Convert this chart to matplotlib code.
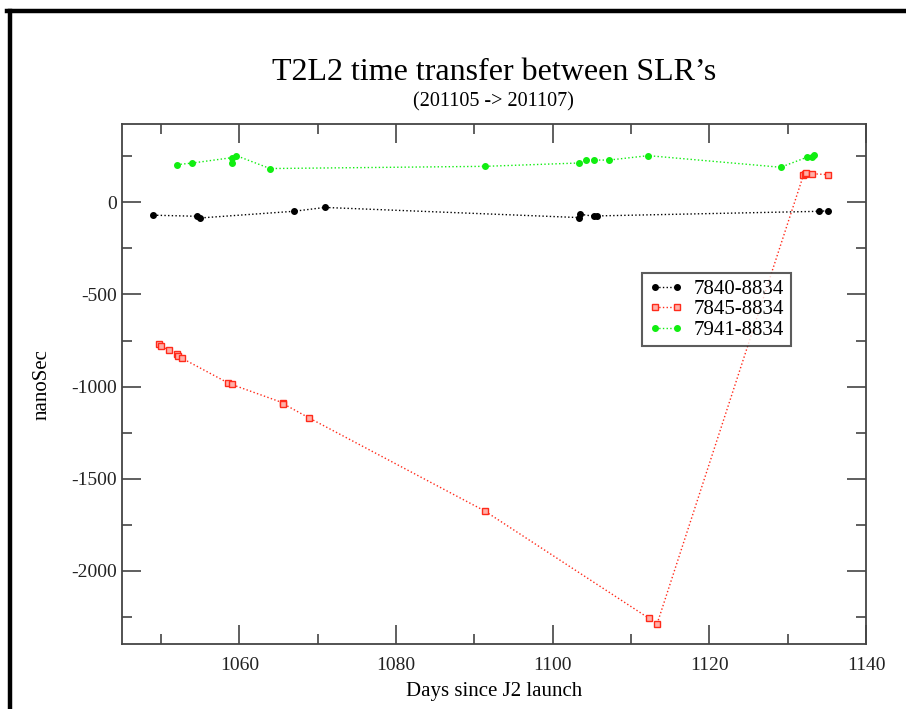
import matplotlib.pyplot as plt
from matplotlib.lines import Line2D

# days since J2 launch / time offset in ns
days_7840 = [1049.0, 1054.6, 1055.0, 1066.9, 1070.9, 1103.4, 1103.5, 1105.3, 1105.6, 1134.0, 1135.1]
ns_7840 = [-70, -76, -85, -49, -28, -83, -65, -76, -74, -49, -46]

days_7845 = [1049.7, 1050.0, 1051.0, 1052.0, 1052.1, 1052.7, 1058.5, 1059.0, 1065.5, 1065.6,
             1068.9, 1091.3, 1112.3, 1113.3, 1132.0, 1132.2, 1132.3, 1133.1, 1135.1]
ns_7845 = [-771, -778, -803, -823, -833, -847, -979, -988, -1087, -1093,
           -1170, -1674, -2257, -2290, 146, 152, 159, 155, 150]

days_7941 = [1052.0, 1054.0, 1059.0, 1059.0, 1059.6, 1063.9, 1091.4, 1103.3, 1104.2, 1105.3,
             1107.2, 1112.2, 1129.1, 1132.5, 1133.1, 1133.4]
ns_7941 = [204, 213, 242, 215, 253, 183, 195, 213, 229, 229,
           229, 253, 190, 245, 245, 255]

labels = ['7840-8834', '7845-8834', '7941-8834']

plt.rcParams['font.family'] = ['Liberation Serif', 'DejaVu Serif']
plt.rcParams['axes.unicode_minus'] = False

fig = plt.figure(figsize=(9.06, 7.09), dpi=100)
ax = fig.add_axes([122/906, 1-644/709, (866-122)/906, (644-124.3)/709])

ax.plot(days_7840, ns_7840, color='black', ls=':', lw=1, marker='o', ms=4, label=labels[0])
ax.plot(days_7845, ns_7845, color='#ff2a1a', ls=':', lw=1, marker='s', ms=4,
        mfc='#ffb0a8', mec='#ff2a1a', mew=1, label=labels[1])
ax.plot(days_7941, ns_7941, color='#11ee11', ls=':', lw=1, marker='o', ms=4, label=labels[2])

ax.set_xlim(1045, 1140)
ax.set_ylim(-2396, 423)
ax.set_xticks(range(1060, 1141, 20))
ax.set_xticks(range(1050, 1141, 10), minor=True)
ax.set_yticks(range(-2000, 1, 500))
ax.set_yticks(range(-2250, 423, 250), minor=True)
ax.tick_params(which='both', direction='in', top=True, right=True, colors='#444444',
               labelcolor='#222222', labelsize=14, width=1.2)
ax.tick_params(which='major', length=14)
ax.tick_params(which='minor', length=7)
ax.tick_params(axis='x', which='major', pad=9)
for s in ax.spines.values():
    s.set_color('#444444')
    s.set_linewidth(1.3)

ax.set_xlabel('Days since J2 launch', fontsize=15, labelpad=6)
ax.set_ylabel('nanoSec', fontsize=15, labelpad=14)

fig.text(0.545, 1-73/709, 'T2L2 time transfer between SLR\u2019s', ha='center', va='center', fontsize=23)
fig.text(0.545, 1-102/709, '(201105 -> 201107)', ha='center', va='center', fontsize=14.5)

leg = ax.legend(loc='upper left', bbox_to_anchor=((642-122)/744, 1-(273-124.3)/519.7),
                numpoints=2, fontsize=15, frameon=True, fancybox=False,
                handlelength=1.7, handletextpad=0.5, borderpad=0.3, labelspacing=0.05,
                borderaxespad=0)
leg.get_frame().set_edgecolor('#333333')
leg.get_frame().set_linewidth(1.5)

# outer frame
fig.add_artist(Line2D([7/906, 1.0], [1-11/709, 1-11/709], color='black', lw=3.2, transform=fig.transFigure))
fig.add_artist(Line2D([9.5/906, 9.5/906], [0, 1-11/709], color='black', lw=3.2, transform=fig.transFigure))

fig.savefig('out.png', dpi=100)
